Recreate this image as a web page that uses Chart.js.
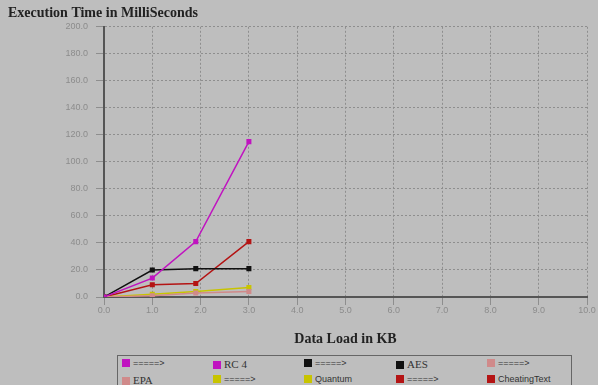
<!DOCTYPE html>
<html lang="en">
<head>
  <meta charset="UTF-8">
  <title>Execution Time</title>
  <script src="https://cdn.jsdelivr.net/npm/chart.js"></script>
  <style>
    body { margin: 0; background: #bebebe; }
    #wrap { position: relative; width: 598px; height: 385px; overflow: hidden; }
    #legend { position: absolute; left: 117px; top: 355px; width: 455px; height: 40px;
      border: 1px solid #666; box-sizing: border-box; }
    .item { position: absolute; font-size: 10px; color: #333; white-space: nowrap; }
    .item span.sw { display: inline-block; width: 8px; height: 8px; margin-right: 3px; vertical-align: -1px; }
    .serif { font-family: "Liberation Serif", serif; font-size: 11px; }
    .sans { font-family: "Liberation Sans", sans-serif; font-size: 9px; }
  </style>
</head>
<body>
<div id="wrap">
  <canvas id="timeChart" width="598" height="352"></canvas>
  <div id="legend"></div>
</div>
<script>
  const loads = [0, 1, 1.9, 3];
  const rc4 = [0, 14, 41, 115];
  const aes = [0, 20, 21, 21];
  const epa = [0, 1, 3, 4];
  const quantum = [0, 2, 4, 7];
  const cheating = [0, 9, 10, 41];
  const names = ['RC 4', 'AES', 'EPA', 'Quantum', 'CheatingText'];
  const colors = ['#c014c0', '#111111', '#d08a8a', '#c8c400', '#b41414'];

  const series = [rc4, aes, epa, quantum, cheating];
  const grid = { color: '#8e8e8e', lineWidth: 1 };
  const border = { color: '#555', width: 2, dash: [2, 2] };

  new Chart(document.getElementById('timeChart').getContext('2d'), {
    type: 'line',
    data: {
      datasets: series.map((vals, i) => ({
        label: names[i],
        data: vals.map((v, j) => ({ x: loads[j], y: v })),
        borderColor: colors[i],
        backgroundColor: colors[i],
        borderWidth: 1.5,
        pointRadius: 2.5,
        pointStyle: 'rect',
        tension: 0
      }))
    },
    options: {
      responsive: false,
      animation: false,
      layout: { padding: { left: 8, right: 11, top: 0, bottom: 0 } },
      plugins: {
        legend: { display: false },
        tooltip: { enabled: false },
        title: {
          display: true,
          text: 'Execution Time in MilliSeconds',
          align: 'start',
          color: '#222',
          font: { family: 'Liberation Serif', size: 14, weight: 'bold' },
          padding: { top: 5, bottom: 5 }
        }
      },
      scales: {
        x: {
          type: 'linear', min: 0, max: 10,
          ticks: { stepSize: 1, color: '#8c8c8c', font: { family: 'Liberation Sans', size: 9 },
            callback: v => v.toFixed(1), padding: 0 },
          grid: grid,
          border: border,
          title: { display: true, text: 'Data Load in KB', color: '#222',
            font: { family: 'Liberation Serif', size: 14, weight: 'bold' }, padding: { top: 15, bottom: 4 } },
          afterFit: s => { s.height = 55; }
        },
        y: {
          min: 0, max: 200,
          ticks: { stepSize: 20, color: '#8c8c8c', font: { family: 'Liberation Sans', size: 9 },
            callback: v => v.toFixed(1), padding: 8 },
          grid: grid,
          border: border,
          afterFit: s => { s.width = 96; }
        }
      }
    }
  });

  // legend: each series has an arrow entry and a name entry
  const legend = document.getElementById('legend');
  const cols = [4, 95, 186, 278, 369];
  let k = 0;
  names.forEach((n, i) => {
    [['=====>', 'sans'], [n, (i < 3) ? 'serif' : 'sans']].forEach(([txt, cls]) => {
      const d = document.createElement('div');
      d.className = 'item ' + cls;
      d.style.left = cols[k % 5] + 'px';
      d.style.top = (k < 5 ? 2 : 18) + 'px';
      d.innerHTML = '<span class="sw" style="background:' + colors[i] + '"></span>' + txt;
      legend.appendChild(d);
      k++;
    });
  });
</script>
</body>
</html>
